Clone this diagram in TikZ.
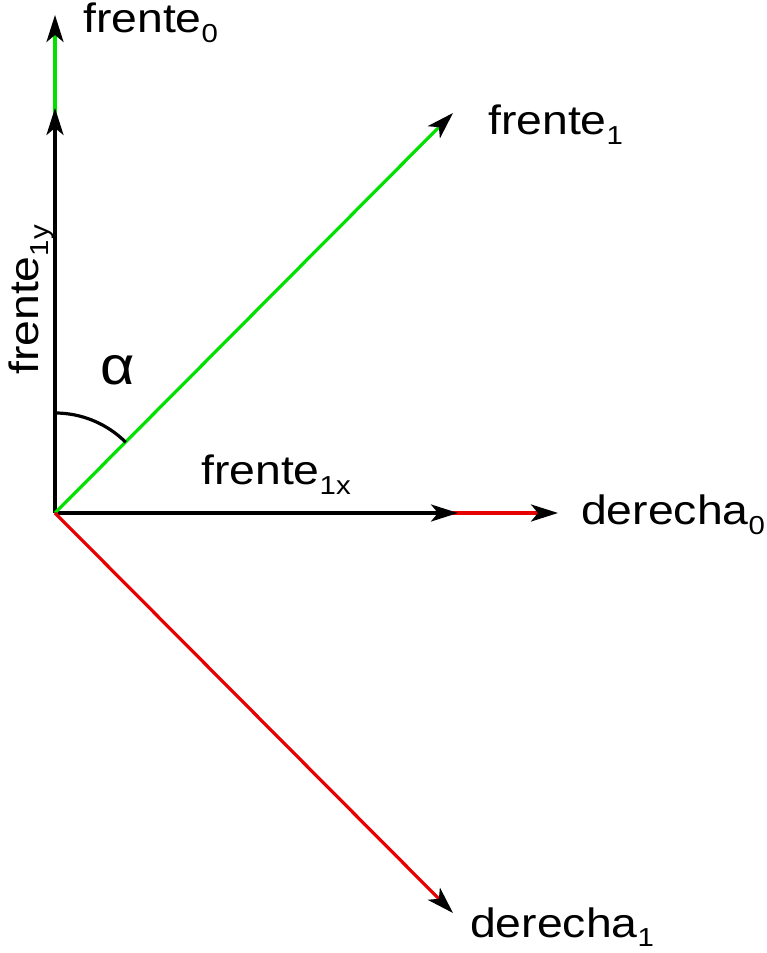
\documentclass[tikz,border=0pt]{standalone}
\usepackage{fontspec}
\setmainfont{Liberation Sans}
\usetikzlibrary{arrows.meta}
\definecolor{vgreen}{RGB}{0,225,0}
\definecolor{vred}{RGB}{230,0,0}
\newcommand{\lbl}[2]{\scalebox{1.13}[1]{\fontsize{41}{41}\selectfont #1\raisebox{-10pt}{\fontsize{26}{26}\selectfont #2}}}
\begin{document}
\begin{tikzpicture}[x=1pt,y=1pt,
  vec/.style={line width=3.2pt,-{Stealth[length=27pt,width=17pt,inset=7pt,black]}},
  txt/.style={inner sep=0pt,anchor=base west}]
\useasboundingbox (0,0) rectangle (766,953);
\coordinate (O) at (55,440);
\coordinate (F0) at (55,938);
\coordinate (F1y) at (55,845);
\coordinate (D0) at (558,440);
\coordinate (F1x) at (458,440);
\coordinate (F1) at (453,840);
\coordinate (D1) at (453,40);
\coordinate (A0) at (55,540);
% vectors
\draw[vec,vgreen] (O) -- (F0);
\draw[vec,vred] (O) -- (D0);
\draw[vec,black] (O) -- (F1y);
\draw[vec,black] (O) -- (F1x);
\draw[vec,vgreen] (O) -- (F1);
\draw[vec,vred] (O) -- (D1);
% angle arc
\draw[line width=3.2pt] (A0) arc[start angle=90,end angle=45,radius=100pt];
% labels
\node[txt] (lf0) at (83,920) {\lbl{frente}{0}};
\node[txt] (lf1) at (488,818) {\lbl{frente}{1}};
\node[txt] (ld0) at (581,428) {\lbl{derecha}{0}};
\node[txt] (ld1) at (470,16) {\lbl{derecha}{1}};
\node[txt] (lf1x) at (201,468) {\lbl{frente}{1x}};
\node[txt,rotate=90] (lf1y) at (38,578) {\lbl{frente}{1y}};
\node[txt] (lal) at (100,568) {\scalebox{1.1}[1]{\fontsize{54}{54}\selectfont α}};
\end{tikzpicture}
\end{document}
